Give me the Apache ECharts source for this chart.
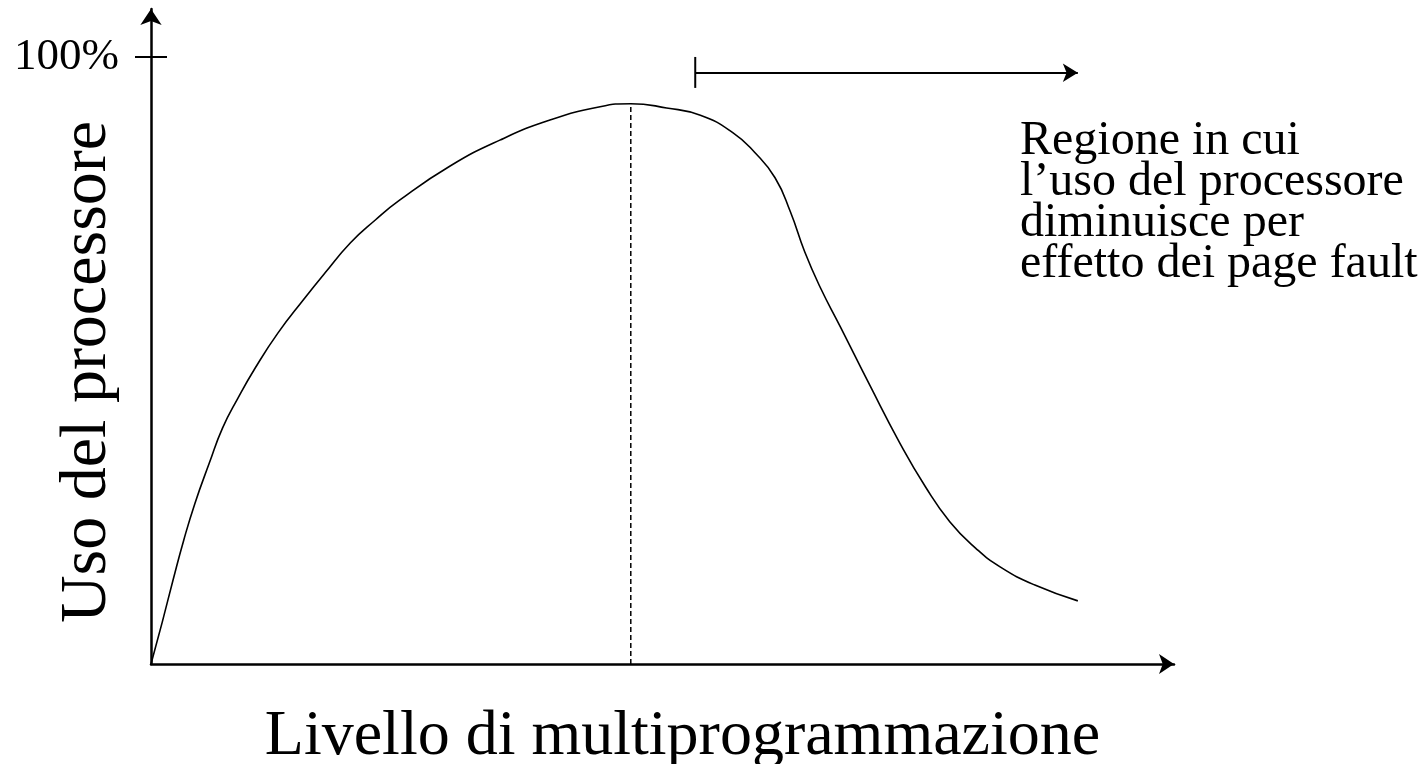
<!DOCTYPE html>
<html>
<head>
<meta charset="utf-8">
<title>Uso del processore</title>
<script src="https://cdn.jsdelivr.net/npm/echarts@6.0.0/dist/echarts.min.js"></script>
<style>
  html, body { margin: 0; padding: 0; background: #fff; }
  #main { width: 1427px; height: 764px; }
</style>
</head>
<body>
<div id="main"></div>
<script>
// curve points (x = livello, y = uso %)
const levelX = [0, 1.1, 2.15, 3.2, 4.3, 5.7, 7.0, 8.5, 10.2, 12.4, 14.9, 17.0, 19.5, 21.9, 24.3, 29.2, 34.1, 39.0, 43.9, 46.9,
  50.4, 53.7, 56.9, 59.0, 61.0, 62.5, 63.9, 65.4, 67.4, 70.3, 73.2, 75.7, 78.1, 80.6, 83.0, 86.4, 90.6];
const usage = [0, 6.9, 13.8, 20.4, 26.5, 33.1, 38.9, 43.8, 48.8, 54.5, 60.0, 64.4, 69.4, 73.1, 76.4, 82.0, 86.3, 89.6, 91.8, 92.3,
  91.6, 90.4, 87.5, 84.3, 80.1, 74.5, 67.9, 62.1, 55.5, 45.8, 36.4, 29.2, 23.4, 19.1, 16.0, 13.0, 10.4];

// dashed line at the maximum
const peakX = 46.9;
const peakY = 92.3;

// arrow over the "thrashing" region
const regionX = [53.2, 90.6];
const regionY = 97.4;
const regionTickY = [94.9, 100];

const yTicks = [100];
const yTickLabels = ['100%'];
const xTitle = 'Livello di multiprogrammazione';
const yTitle = 'Uso del processore';
const noteLines = ['Regione in cui', 'l\u2019uso del processore', 'diminuisce per', 'effetto dei page fault'];

const FONT = '"Liberation Serif", "Times New Roman", serif';

const myChart = echarts.init(document.getElementById('main'));

const curveData = levelX.map((x, i) => [x, usage[i]]);

const options = {
  animation: false,
  backgroundColor: '#fff',
  grid: {
    left: 151,
    right: 253,
    top: 9,
    bottom: 100,
    outerBoundsMode: 'none',
  },
  xAxis: {
    type: 'value',
    min: 0,
    max: 100,
    name: xTitle,
    nameLocation: 'middle',
    nameGap: 41,
    nameMoveOverlap: false,
    nameTextStyle: { fontFamily: FONT, fontSize: 64, color: '#000', padding: [0, 0, 0, 40] },
    axisLine: {
      show: true,
      symbol: ['none', 'arrow'],
      symbolSize: [15, 15],
      lineStyle: { color: '#000', width: 2.5 },
    },
    axisTick: { show: false },
    axisLabel: { show: false },
    splitLine: { show: false },
  },
  yAxis: [
    {
      type: 'value',
      min: 0,
      max: 107.9,
      position: 'left',
      name: yTitle,
      nameLocation: 'middle',
      nameRotate: 90,
      nameGap: 30,
      nameMoveOverlap: false,
      nameTextStyle: { fontFamily: FONT, fontSize: 66, color: '#000', padding: [0, 71, 0, 0] },
      axisLine: {
        show: true,
        symbol: ['none', 'arrow'],
        symbolSize: [16, 16],
        lineStyle: { color: '#000', width: 2.5 },
      },
      axisTick: {
        show: true,
        customValues: yTicks,
        length: 16,
        lineStyle: { color: '#000', width: 2 },
      },
      axisLabel: {
        show: true,
        customValues: yTicks,
        margin: 32,
        formatter: (v) => yTickLabels[yTicks.indexOf(v)] || '',
        fontFamily: FONT,
        fontSize: 45,
        color: '#000',
        padding: [0, 0, 10, 0],
      },
      splitLine: { show: false },
    },
    {
      // second copy only for the inner half of the 100% tick
      type: 'value',
      min: 0,
      max: 107.9,
      position: 'left',
      axisLine: { show: false },
      axisTick: {
        show: true,
        inside: true,
        customValues: yTicks,
        length: 16,
        lineStyle: { color: '#000', width: 2 },
      },
      axisLabel: { show: false },
      splitLine: { show: false },
    },
  ],
  series: [
    {
      name: 'uso',
      type: 'line',
      data: curveData,
      smooth: 0.5,
      showSymbol: false,
      lineStyle: { color: '#000', width: 1.6 },
    },
    {
      name: 'picco',
      type: 'line',
      data: [[peakX, 0], [peakX, peakY]],
      showSymbol: false,
      lineStyle: { color: '#000', width: 1.5, type: [5, 3] },
    },
    {
      name: 'regione',
      type: 'line',
      data: [[regionX[0], regionTickY[0]], [regionX[0], regionTickY[1]]],
      showSymbol: false,
      lineStyle: { color: '#000', width: 2 },
      markLine: {
        silent: true,
        symbol: ['none', 'arrow'],
        symbolSize: [14, 15],
        label: { show: false },
        lineStyle: { color: '#000', width: 2, type: 'solid' },
        data: [
          [{ coord: [regionX[0], regionY] }, { coord: [regionX[1], regionY] }],
        ],
      },
    },
  ],
  graphic: [
    {
      type: 'text',
      left: 1020,
      top: 117,
      style: {
        text: noteLines.join('\n'),
        font: '48px ' + FONT,
        lineHeight: 41,
        fill: '#000',
      },
    },
  ],
};

myChart.setOption(options);

window.addEventListener('resize', () => {
  myChart.resize();
});
</script>
</body>
</html>
